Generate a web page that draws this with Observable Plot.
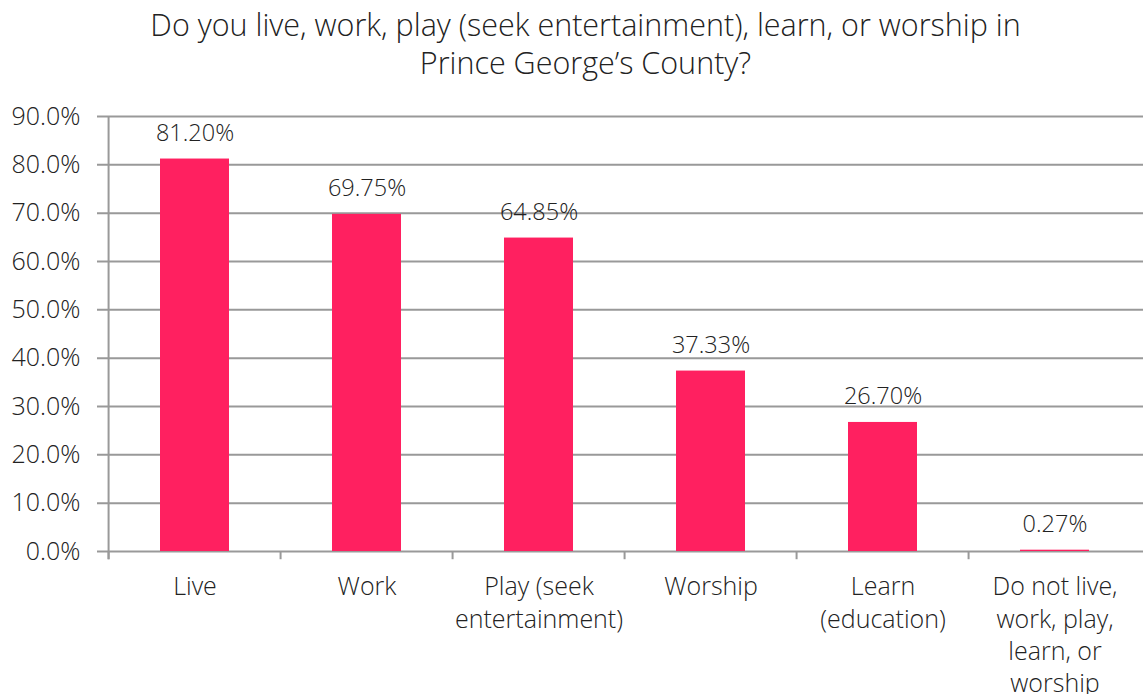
<!DOCTYPE html>
<html><head><meta charset="utf-8">
<script src="https://cdn.jsdelivr.net/npm/d3@7"></script>
<script src="https://cdn.jsdelivr.net/npm/@observablehq/plot@0.6"></script>
<style>
body{margin:0;background:#fff;font-family:"Open Sans",sans-serif;color:#222;}
#title{position:absolute;left:28px;width:1115px;top:0;text-align:center;font-size:30.5px;line-height:38px;padding-top:5px;font-weight:300;white-space:nowrap}
#chart{position:absolute;top:96px;left:0}
</style></head><body>
<div id="title">Do you live, work, play (seek entertainment), learn, or worship in<br>Prince George’s County?</div>
<div id="chart"></div>
<script>
const categories = ["Live", "Work", "Play (seek\nentertainment)", "Worship", "Learn\n(education)", "Do not live,\nwork, play,\nlearn, or\nworship"];
const values = [81.20, 69.75, 64.85, 37.33, 26.70, 0.27];
const yTicks = [0, 10, 20, 30, 40, 50, 60, 70, 80, 90];
const data = categories.map((c, i) => ({category: c, value: values[i]}));

const W = 1143, mL = 106, mR = 0, mT = 20, H = 598, mB = 143;
const half = (W - mL - mR) / categories.length / 2;
const grey = "#999";
const font = "'Open Sans', sans-serif";

const plot = Plot.plot({
  width: W, height: H, marginLeft: mL, marginRight: mR, marginTop: mT, marginBottom: mB,
  style: {fontFamily: font, fontSize: "24px", color: "#222", background: "transparent", overflow: "visible", fontWeight: 300},
  x: {domain: categories, paddingInner: 0.6, paddingOuter: 0.3, label: null},
  y: {domain: [0, 90], label: null},
  marks: [
    Plot.ruleY(yTicks, {stroke: grey, strokeWidth: 2, insetLeft: -9}),
    Plot.ruleX(categories, {x: d => d, dx: -half, y1: -1.7, y2: 0, stroke: grey, strokeWidth: 2}),
    Plot.ruleX([categories[0]], {x: d => d, dx: -half, y1: -1.7, y2: 90, stroke: grey, strokeWidth: 2}),
    Plot.barY(data, {x: "category", y: "value", fill: "#FF2060"}),
    Plot.text(data, {x: "category", y: "value", text: d => d.value.toFixed(2) + "%", lineAnchor: "bottom", dy: -18, fontSize: 23.5, fill: "#222"}),
    Plot.axisY(yTicks, {tickSize: 0, tickPadding: 26, tickFormat: d => d.toFixed(1) + "%", fontSize: 25, fill: "#222"}),
    Plot.axisX({tickSize: 0, tickPadding: 21, tickFormat: d => d, fontSize: 25, lineHeight: 1.29, fill: "#222"})
  ]
});
document.getElementById("chart").appendChild(plot);
</script>
</body></html>
